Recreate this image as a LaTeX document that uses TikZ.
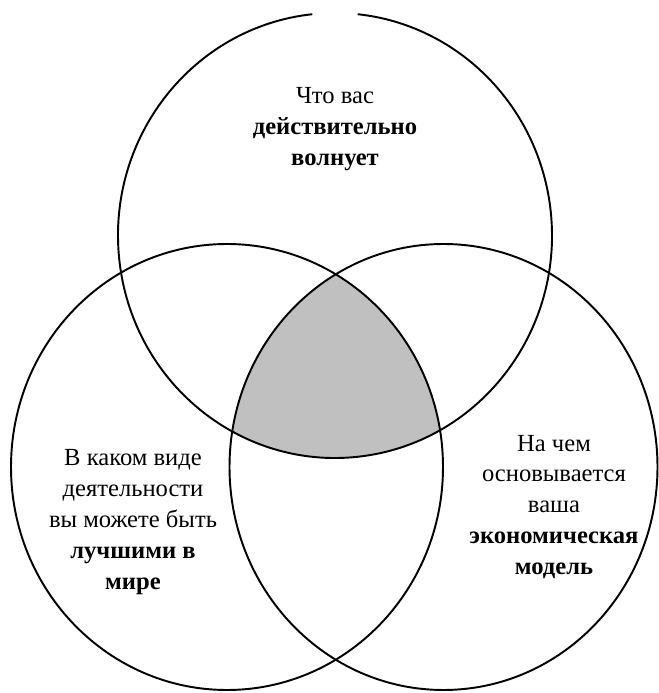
\documentclass[tikz,border=0pt]{standalone}
\usepackage{fontspec}
\setmainfont{Liberation Serif}
\usepackage{tikz}
\definecolor{vennfill}{HTML}{C0C0C0}

\begin{document}
\begin{tikzpicture}[
  x=0.02cm, y=0.02cm,
  ring/.style={draw=black, line width=1.1pt},
  venntext/.style={align=center, inner sep=0pt, font=\fontsize{14}{17.6}\selectfont}
]
\useasboundingbox (0,0) rectangle (659,693);
\coordinate (ctop) at (335,457.5);
\coordinate (cleft) at (227,226);
\coordinate (cright) at (443.5,226);
% shaded common part
\begin{scope}
  \clip (ctop) ellipse [x radius=217, y radius=222.5];
  \clip (cleft) ellipse [x radius=216, y radius=223];
  \fill[vennfill] (cright) ellipse [x radius=214, y radius=223];
\end{scope}
% circles
\draw[ring] (ctop) ++(96:217 and 222.5) arc [start angle=96, end angle=444, x radius=217, y radius=222.5];
\draw[ring] (cleft) ellipse [x radius=216, y radius=223];
\draw[ring] (cright) ellipse [x radius=214, y radius=223];
% texts
\node[venntext] (passion) at (335,564) {Что вас\\\textbf{действительно}\\\textbf{волнует}};
\node[venntext] (best) at (133,171) {В каком виде\\деятельности\\вы можете быть\\\textbf{лучшими в}\\\textbf{мире}};
\node[venntext] (money) at (554,186) {На чем\\основывается\\ваша\\\textbf{экономическая}\\\textbf{модель}};
\end{tikzpicture}
\end{document}
